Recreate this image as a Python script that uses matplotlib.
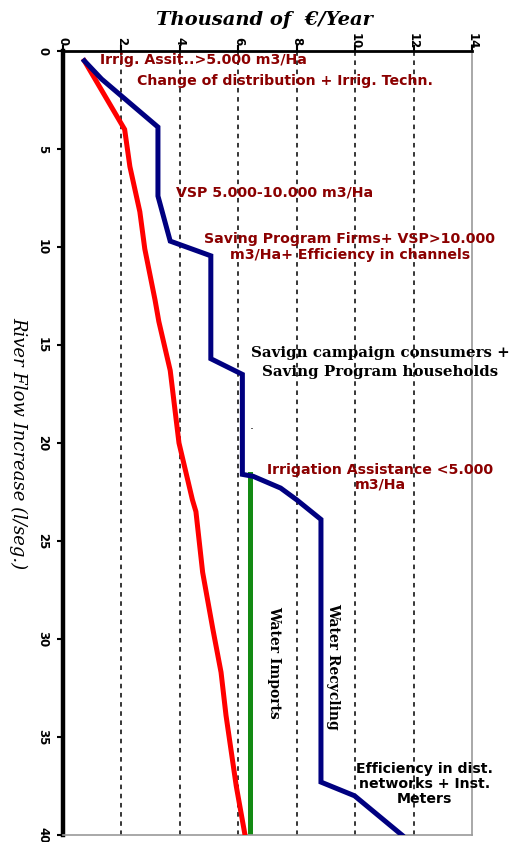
import matplotlib
matplotlib.use("Agg")
import matplotlib.pyplot as plt

# cost curves: x = thousand €/year, y = river flow increase (l/seg.)
red_cost = [0.73, 1.94, 2.11, 2.29, 2.63, 2.80, 3.15, 3.28, 3.67, 3.97, 4.43, 4.55,
            4.78, 5.13, 5.41, 5.58, 5.93, 6.23]
red_flow = [0.5, 3.57, 4.0, 5.9, 8.2, 10.1, 12.7, 13.8, 16.3, 20.0, 22.9, 23.5,
            26.6, 29.5, 31.7, 33.9, 37.5, 40.0]

blue_cost = [0.73, 1.32, 3.25, 3.25, 3.67, 5.06, 5.06, 6.14, 6.14, 6.51, 7.45, 8.0,
             8.83, 8.83, 9.98, 11.6]
blue_flow = [0.5, 1.43, 3.88, 7.4, 9.7, 10.45, 15.7, 16.5, 21.6, 21.7, 22.3, 22.9,
             23.9, 37.3, 38.0, 40.0]

green_cost = [6.41, 6.41]
green_flow = [21.6, 40.0]

x_ticks = [0, 2, 4, 6, 8, 10, 12, 14]
y_ticks = [0, 5, 10, 15, 20, 25, 30, 35, 40]

dark_red = "#8b0000"

fig = plt.figure(figsize=(5.30, 8.42), dpi=100)
ax = fig.add_axes([63 / 530, 1 - 835 / 842, 409 / 530, 784 / 842])

ax.plot(red_cost, red_flow, color="#ff0000", lw=3.6, solid_joinstyle="miter", zorder=3)
ax.plot(blue_cost, blue_flow, color="#000080", lw=3.6, solid_joinstyle="miter", zorder=3)
ax.plot(green_cost, green_flow, color="#138a13", lw=3.6, zorder=2)

ax.set_xlim(0, 14)
ax.set_ylim(40, 0)
ax.set_xticks(x_ticks)
ax.set_yticks(y_ticks)
ax.xaxis.tick_top()
ax.tick_params(axis="x", direction="out", length=4, width=1.5, pad=3,
               labelrotation=270, labelsize=8.5)
ax.tick_params(axis="y", direction="out", length=4, width=1.5, pad=6,
               labelrotation=270, labelsize=8.5)
for lab in ax.get_xticklabels() + ax.get_yticklabels():
    lab.set_fontweight("bold")
    lab.set_va("center")

for gx in x_ticks[1:-1]:
    ax.axvline(gx, color="black", lw=1.1, ls=(0, (3, 3)), zorder=1)

ax.spines["top"].set_linewidth(2)
ax.spines["left"].set_linewidth(3.2)
ax.spines["right"].set_color("#9a9a9a")
ax.spines["bottom"].set_color("#9a9a9a")
ax.spines["right"].set_linewidth(1.2)
ax.spines["bottom"].set_linewidth(1.2)

fig.text(0.498, 0.976, "Thousand of  €/Year", ha="center", va="center",
         family="DejaVu Serif", style="italic", weight="bold", fontsize=14)
fig.text(0.034, 1 - 443 / 842, "River Flow Increase (l/seg.)", ha="center", va="center",
         rotation=270, family="DejaVu Serif", style="italic", fontsize=13)

sans = dict(family="DejaVu Sans", weight="bold", fontsize=10.2)
ax.text(1.27, 0.45, "Irrig. Assit..>5.000 m3/Ha", color=dark_red, ha="left", va="center", **sans)
ax.text(2.54, 1.55, "Change of distribution + Irrig. Techn.", color=dark_red,
        ha="left", va="center", **sans)
ax.text(3.87, 7.2, "VSP 5.000-10.000 m3/Ha", color=dark_red, ha="left", va="center", **sans)
ax.text(9.82, 10.0, "Saving Program Firms+ VSP>10.000\nm3/Ha+ Efficiency in channels",
        color=dark_red, ha="center", va="center", linespacing=1.2, **sans)
ax.text(10.85, 21.75, "Irrigation Assistance <5.000\nm3/Ha", color=dark_red,
        ha="center", va="center", linespacing=1.05, **sans)
ax.text(12.38, 37.4, "Efficiency in dist.\nnetworks + Inst.\nMeters", color="black",
        ha="center", va="center", linespacing=1.1, **sans)

ax.text(10.85, 15.9, "Savign campaign consumers +\nSaving Program households",
        color="black", ha="center", va="center", family="DejaVu Serif", weight="bold",
        fontsize=10.8, linespacing=1.45)
ax.text(6.44, 19.1, ".", color="black", ha="center", va="center", fontsize=9)

ax.text(7.22, 31.2, "Water Imports", rotation=270, ha="center", va="center",
        family="DejaVu Serif", weight="bold", fontsize=10)
ax.text(9.24, 31.4, "Water Recycling", rotation=270, ha="center", va="center",
        family="DejaVu Serif", weight="bold", fontsize=10)

fig.savefig("out.png", dpi=100)
